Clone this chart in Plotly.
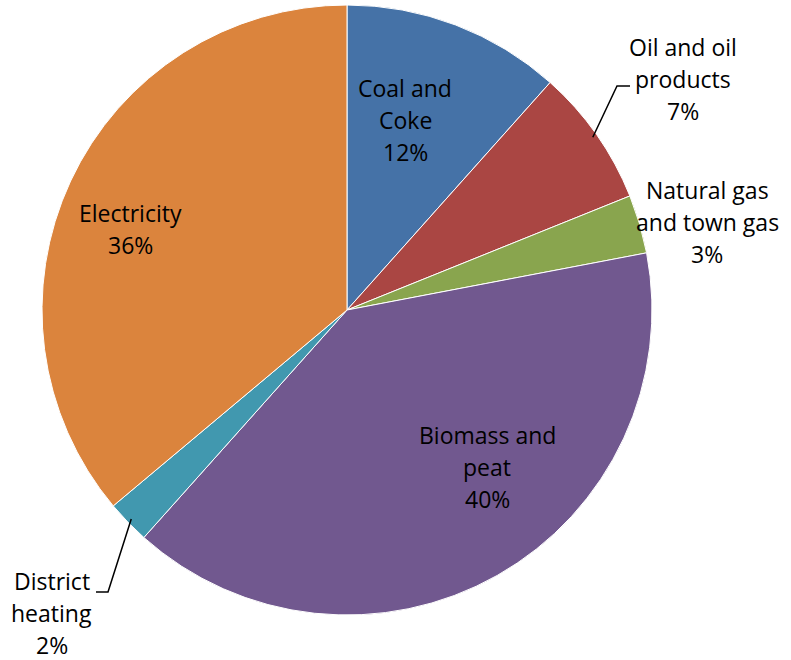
import math
import plotly.graph_objects as go

# ---- data ----
categories = ["Coal and Coke", "Oil and oil products", "Natural gas and town gas",
              "Biomass and peat", "District heating", "Electricity"]
label_lines = [["Coal and", "Coke"], ["Oil and oil", "products"], ["Natural gas", "and town gas"],
               ["Biomass and", "peat"], ["District", "heating"], ["Electricity"]]
values = [11.6, 7.3, 3.1, 39.6, 2.3, 36.1]
colors = ["#4572A7", "#AA4643", "#89A54E", "#71588F", "#4198AF", "#DB843D"]

W, H = 791, 660
CX, CY, R = 347, 310, 305

def px(x):
    return x / W

def py(y):
    return 1 - y / H

fig = go.Figure(go.Pie(
    labels=categories, values=values, sort=False, direction="clockwise", rotation=0,
    marker=dict(colors=colors, line=dict(color="white", width=1)),
    textinfo="none", hoverinfo="label+percent", showlegend=False,
    domain=dict(x=[px(CX - R), px(CX + R)], y=[py(CY + R), py(CY - R)]),
))

# label centre positions (pixels) - layout only
label_pos = {
    "Coal and Coke": (405, 120),
    "Oil and oil products": (683, 79),
    "Natural gas and town gas": (707, 222),
    "Biomass and peat": (487, 467),
    "District heating": (52, 613),
    "Electricity": (130, 229),
}
LINE_GAP = 32
FONT = dict(family="Open Sans", size=23, color="black")

total = sum(values)
annotations = []
for cat, lines, v in zip(categories, label_lines, values):
    pct = f"{round(v / total * 100)}%"
    all_lines = lines + [pct]
    cx, cy = label_pos[cat]
    n = len(all_lines)
    for i, t in enumerate(all_lines):
        yy = cy + (i - (n - 1) / 2) * LINE_GAP
        annotations.append(dict(x=px(cx), y=py(yy), xref="paper", yref="paper", text=t,
                                showarrow=False, font=FONT, xanchor="center", yanchor="middle",
                                borderpad=0))

# leader lines, starting at slice mid-angle on the edge
def mid_point(idx, rf=0.985):
    start = sum(values[:idx]) / total
    frac = start + values[idx] / total / 2
    a = 2 * math.pi * frac
    return CX + R * rf * math.sin(a), CY - R * rf * math.cos(a)

shapes = []
leader = {1: [(617, 86), (630, 86)], 4: [(108, 592), (96, 592)]}
for idx, pts in leader.items():
    sx, sy = mid_point(idx)
    path_pts = [(sx, sy)] + pts
    d = "M " + " L ".join(f"{px(x)},{py(y)}" for x, y in path_pts)
    shapes.append(dict(type="path", path=d, xref="paper", yref="paper",
                       line=dict(color="black", width=1.5)))

fig.update_layout(width=W, height=H, margin=dict(l=0, r=0, t=0, b=0),
                  paper_bgcolor="white", plot_bgcolor="white",
                  annotations=annotations, shapes=shapes)
fig.write_html("out.html")
